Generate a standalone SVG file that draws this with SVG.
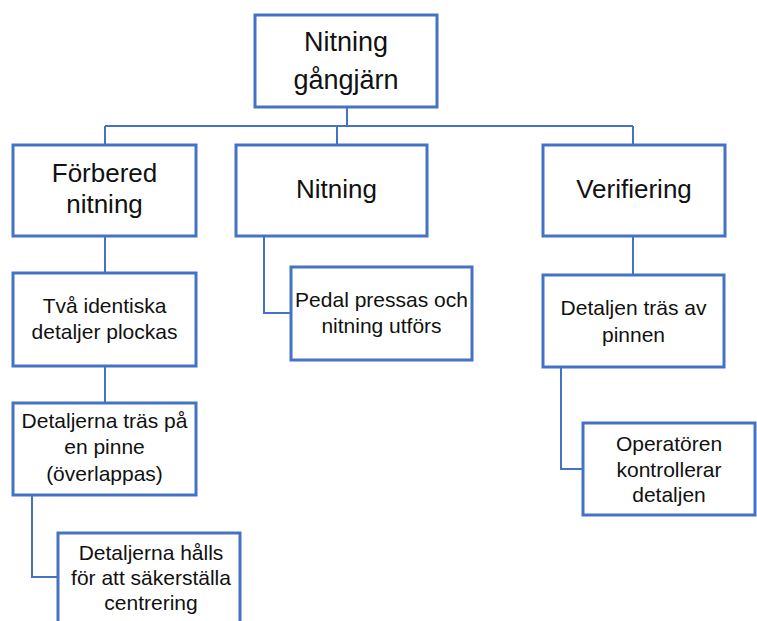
<svg xmlns="http://www.w3.org/2000/svg" width="757" height="621" viewBox="0 0 757 621">
<style>
.box{fill:#fff;stroke:#4472C4;stroke-width:3}
.con{fill:none;stroke:#4472C4;stroke-width:2}
text{font-family:"Liberation Sans",Arial,sans-serif;fill:#111;text-anchor:middle}
.big{font-size:26px}
.top{font-size:27px}
.sm{font-size:21px}
</style>
<rect width="757" height="621" fill="#fff"/>
<g id="connectors">
<path class="con" d="M347,107 V126 M105,126 H633 M105,126 V145 M337,126 V145 M633,126 V145"/>
<path class="con" d="M105,236 V273 M105,366 V403 M32,495 V577 H58"/>
<path class="con" d="M264,236 V313 H291"/>
<path class="con" d="M633,236 V275 M561,367 V469 H583"/>
</g>
<g id="n-root"><rect class="box" x="255" y="15" width="182" height="92"/>
<text class="top" x="346" y="51">Nitning</text><text class="top" x="346" y="89">gångjärn</text></g>
<g id="n-forbered"><rect class="box" x="13" y="145" width="183" height="91"/>
<text class="big" x="104.5" y="182">Förbered</text><text class="big" x="104.5" y="213">nitning</text></g>
<g id="n-nitning"><rect class="box" x="236" y="145" width="191" height="91"/>
<text class="big" x="336.5" y="198">Nitning</text></g>
<g id="n-verifiering"><rect class="box" x="543" y="145" width="182" height="91"/>
<text class="big" x="634" y="198">Verifiering</text></g>
<g id="n-tva"><rect class="box" x="13" y="273" width="183" height="93"/>
<text class="sm" x="104.5" y="313">Två identiska</text><text class="sm" x="104.5" y="339">detaljer plockas</text></g>
<g id="n-tras"><rect class="box" x="13" y="403" width="183" height="92"/>
<text class="sm" x="104.5" y="428">Detaljerna träs på</text><text class="sm" x="104.5" y="454">en pinne</text><text class="sm" x="104.5" y="481">(överlappas)</text></g>
<g id="n-halls"><rect class="box" x="58" y="533" width="182" height="95"/>
<text class="sm" x="151" y="560">Detaljerna hålls</text><text class="sm" x="151" y="585">för att säkerställa</text><text class="sm" x="151" y="610">centrering</text></g>
<g id="n-pedal"><rect class="box" x="291" y="267" width="181" height="93"/>
<text class="sm" x="381.5" y="307">Pedal pressas och</text><text class="sm" x="381.5" y="333">nitning utförs</text></g>
<g id="n-detaljen"><rect class="box" x="543" y="275" width="181" height="92"/>
<text class="sm" x="633.5" y="315">Detaljen träs av</text><text class="sm" x="633.5" y="342">pinnen</text></g>
<g id="n-operatoren"><rect class="box" x="583" y="423" width="172" height="92"/>
<text class="sm" x="669" y="451">Operatören</text><text class="sm" x="669" y="477">kontrollerar</text><text class="sm" x="669" y="502">detaljen</text></g>
</svg>
